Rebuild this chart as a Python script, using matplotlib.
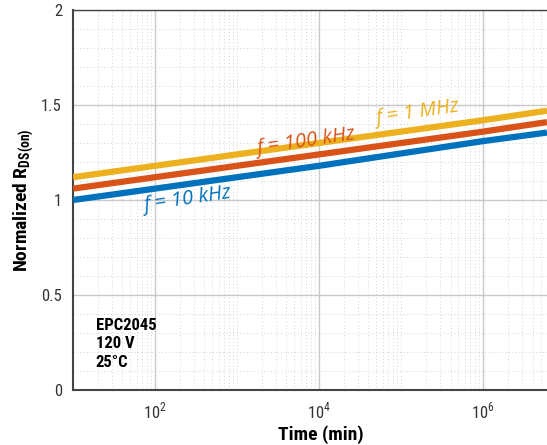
import matplotlib
matplotlib.use('Agg')
import matplotlib.pyplot as plt
from matplotlib.ticker import FixedLocator, MultipleLocator, NullFormatter

narrow = ['Roboto Condensed', 'PT Sans Narrow', 'Liberation Sans Narrow', 'DejaVu Sans']
plt.rcParams['font.family'] = narrow
plt.rcParams['mathtext.fontset'] = 'custom'
plt.rcParams['mathtext.rm'] = narrow[0]
plt.rcParams['mathtext.bf'] = narrow[0] + ':bold'

# data
time_min = [1e1, 1e2, 1e3, 1e4, 1e5, 1e6, 6e6]
rds_10k = [1.00, 1.06, 1.12, 1.18, 1.245, 1.31, 1.355]
rds_100k = [1.06, 1.12, 1.18, 1.24, 1.30, 1.36, 1.41]
rds_1M = [1.12, 1.18, 1.24, 1.30, 1.36, 1.42, 1.47]

series = [
    (rds_10k, '#0072BD', 'f = 10 kHz', (250, 1.0)),
    (rds_100k, '#D95319', 'f = 100 kHz', (6900, 1.305)),
    (rds_1M, '#EDB120', 'f = 1 MHz', (1.6e5, 1.46)),
]

fig = plt.figure(figsize=(5.47, 4.45), dpi=100)
ax = fig.add_axes([0.1335, 0.1236, 0.8665, 0.8539])

for vals, col, lab, pos in series:
    ax.plot(time_min, vals, color=col, lw=4.5, solid_capstyle='butt', zorder=3)
    ax.text(pos[0], pos[1], lab, color=col, fontsize=14.5, style='italic',
            rotation=8.5, ha='center', va='center', family=['Open Sans', 'DejaVu Sans'],
            zorder=4)

ax.set_xscale('log')
ax.set_xlim(10, 6e6)
ax.set_ylim(0, 2)

ax.xaxis.set_major_locator(FixedLocator([1e2, 1e4, 1e6]))
ax.xaxis.set_minor_locator(FixedLocator([m * 10**d for d in range(1, 7) for m in range(2, 10)]
                                        + [1e3, 1e5]))
ax.xaxis.set_minor_formatter(NullFormatter())
ax.yaxis.set_major_locator(FixedLocator([0, 0.5, 1, 1.5, 2]))
ax.yaxis.set_minor_locator(MultipleLocator(0.1))
ax.set_yticklabels(['0', '0.5', '1', '1.5', '2'])
ax.set_xticklabels([r'10$^{2}$', r'10$^{4}$', r'10$^{6}$'])

ax.grid(which='major', color='#c8c8c8', lw=1.0)
ax.grid(which='minor', color='#d4d4d4', lw=0.7, ls=(0, (1, 2.5)))
ax.set_axisbelow(True)

ax.tick_params(which='both', length=0, labelsize=12, colors='#333333', pad=8)
for s in ['left', 'bottom', 'top']:
    ax.spines[s].set_color('#444444')
    ax.spines[s].set_linewidth(1.5)
ax.spines['top'].set_linewidth(1.0)
ax.spines['right'].set_visible(False)

ax.set_xlabel('Time (min)', fontsize=14, fontweight='bold')
ax.xaxis.set_label_coords(0.523, -0.092)
ax.set_ylabel(r'Normalized R$_\mathbf{DS(on)}$', fontsize=14, fontweight='bold', labelpad=4)

ax.text(0.048, 0.19, 'EPC2045\n120 V\n25°C', transform=ax.transAxes, fontsize=12,
        fontweight='bold', ha='left', va='top', linespacing=1.3)

fig.savefig('out.png', dpi=100)
